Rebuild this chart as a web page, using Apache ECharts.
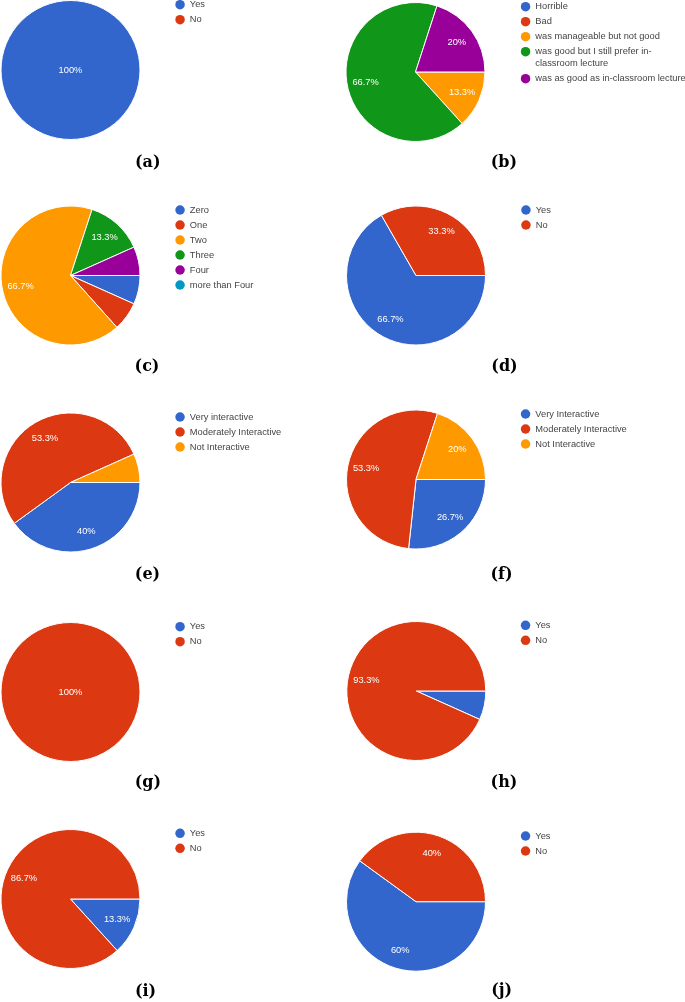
<!DOCTYPE html>
<html><head><meta charset="utf-8">
<script src="https://cdn.jsdelivr.net/npm/echarts@6/dist/echarts.min.js"></script>
<style>html,body{margin:0;padding:0;background:#fff}#c{width:685px;height:1002px}</style>
</head><body><div id="c"></div>
<script>
// ---- data ----
const COLORS = ['#3366cc', '#dc3912', '#ff9900', '#109618', '#990099', '#0099c6'];
const catsA = ['Yes', 'No'];
const valsA = [100, 0];
const catsB = ['Horrible', 'Bad', 'was manageable but not good', 'was good but I still prefer in-classroom lecture', 'was as good as in-classroom lecture'];
const valsB = [0, 0, 13.3, 66.7, 20];
const wrapB = ['was good but I still prefer in-', 'classroom lecture'];
const catsC = ['Zero', 'One', 'Two', 'Three', 'Four', 'more than Four'];
const valsC = [6.7, 6.7, 66.7, 13.3, 6.7, 0];
const catsD = ['Yes', 'No'];
const valsD = [66.7, 33.3];
const catsE = ['Very interactive', 'Moderately Interactive', 'Not Interactive'];
const valsE = [40, 53.3, 6.7];
const catsF = ['Very Interactive', 'Moderately Interactive', 'Not Interactive'];
const valsF = [26.7, 53.3, 20];
const catsG = ['Yes', 'No'];
const valsG = [0, 100];
const catsH = ['Yes', 'No'];
const valsH = [6.7, 93.3];
const catsI = ['Yes', 'No'];
const valsI = [13.3, 86.7];
const catsJ = ['Yes', 'No'];
const valsJ = [60, 40];
const captions = ['(a)', '(b)', '(c)', '(d)', '(e)', '(f)', '(g)', '(h)', '(i)', '(j)'];

// ---- layout ----
const R = 69.5;
const panels = [
  { cats: catsA, vals: valsA, center: [70.5, 70], legend: [175.3, -1.3], cap: [147.8, 163.3] },
  { cats: catsB, vals: valsB, center: [415.5, 72], legend: [520.8, 0.7], cap: [503.8, 163.3] },
  { cats: catsC, vals: valsC, center: [70.5, 275.5], legend: [175.3, 204], cap: [147, 366.7] },
  { cats: catsD, vals: valsD, center: [416, 275.5], legend: [521.2, 204], cap: [504.5, 366.7] },
  { cats: catsE, vals: valsE, center: [70.5, 482.5], legend: [175.3, 411], cap: [147.5, 575] },
  { cats: catsF, vals: valsF, center: [416, 479.5], legend: [520.8, 408], cap: [501.5, 575] },
  { cats: catsG, vals: valsG, center: [70.5, 692], legend: [175.3, 620.7], cap: [147.8, 783.3] },
  { cats: catsH, vals: valsH, center: [416.3, 691], legend: [520.8, 619.3], cap: [504, 783.3] },
  { cats: catsI, vals: valsI, center: [70.5, 899], legend: [175.3, 827.3], cap: [145.5, 991.7] },
  { cats: catsJ, vals: valsJ, center: [416, 901.7], legend: [520.8, 830], cap: [501.7, 990.5] }
];

const FONT = '"Liberation Sans", Arial, sans-serif';
const legendText = { color: '#444', fontSize: 9.3, fontFamily: FONT, lineHeight: 12 };

const series = [];
const legends = [];
const graphics = [];

panels.forEach((p, k) => {
  series.push({
    type: 'pie', center: p.center, radius: [0, R], startAngle: 0, clockwise: true,
    silent: true, avoidLabelOverlap: false, animation: false,
    label: { show: false }, labelLine: { show: false },
    emphasis: { disabled: true },
    data: p.cats.map((n, i) => ({
      name: n, value: p.vals[i],
      itemStyle: { color: COLORS[i], borderColor: '#fff', borderWidth: p.vals[i] > 0 ? 1 : 0 }
    }))
  });
  series.push({
    type: 'pie', center: p.center, radius: [26.5, R], startAngle: 0, clockwise: true,
    silent: true, avoidLabelOverlap: false, animation: false, legendHoverLink: false,
    itemStyle: { color: 'rgba(0,0,0,0)', borderWidth: 0 },
    labelLine: { show: false },
    emphasis: { disabled: true },
    label: { show: true, position: 'inside', color: '#fff', fontSize: 9.3, fontFamily: FONT,
             formatter: (q) => q.value + '%' },
    data: p.cats.map((n, i) => ({
      name: n, value: p.vals[i],
      label: { show: p.vals[i] >= 10, position: p.vals[i] >= 100 ? 'center' : 'inside' }
    }))
  });

  const base = {
    orient: 'vertical', left: p.legend[0], top: p.legend[1], padding: 0,
    itemWidth: 9.5, itemHeight: 9.5, itemGap: 3, icon: 'circle', selectedMode: false,
    itemStyle: { borderWidth: 0 },
    textStyle: legendText
  };
  if (k === 1) {
    legends.push(Object.assign({}, base, {
      data: p.cats.slice(0, 4),
      formatter: (name) => (name === p.cats[3] ? wrapB[0] : name)
    }));
    legends.push(Object.assign({}, base, { top: p.legend[1] + 72, data: p.cats.slice(4) }));
    graphics.push({
      type: 'text', x: p.legend[0] + 14.5, y: p.legend[1] + 63,
      style: { text: wrapB[1], font: '9.3px ' + FONT, fill: '#444', textVerticalAlign: 'middle' }
    });
  } else {
    legends.push(Object.assign({}, base, { data: p.cats }));
  }

  graphics.push({
    type: 'text', x: p.cap[0], y: p.cap[1],
    style: { text: captions[k], font: 'bold 16px "DejaVu Serif", serif', fill: '#000',
             textAlign: 'center', textVerticalAlign: 'middle' }
  });
});

const chart = echarts.init(document.getElementById('c'), null, { renderer: 'canvas' });
chart.setOption({
  animation: false,
  backgroundColor: '#fff',
  legend: legends,
  series: series,
  graphic: graphics
});
</script>
</body></html>
